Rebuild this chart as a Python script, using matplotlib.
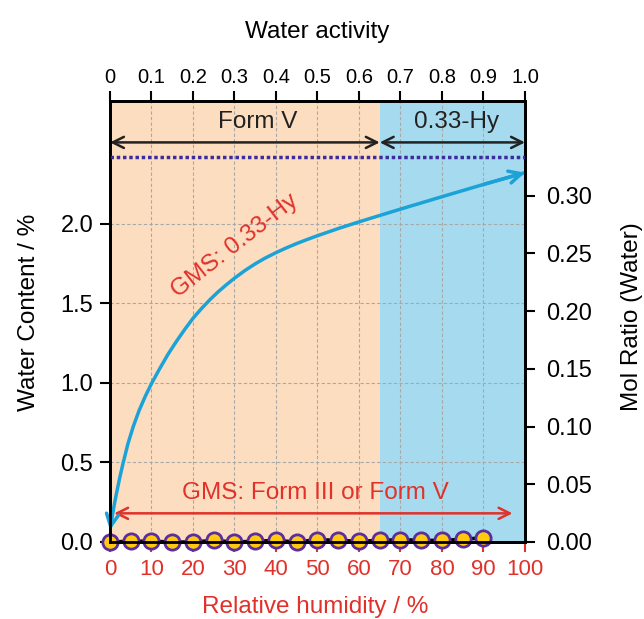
import numpy as np
import matplotlib
matplotlib.use("Agg")
import matplotlib.pyplot as plt

plt.rcParams["font.family"] = ["Liberation Sans", "DejaVu Sans"]

# GMS sorption curve of the 0.33 hydrate (water content %, vs RH %)
rh_hy = [0.0, 0.4, 1.0, 1.6, 2.4, 3.2, 4.3, 5.6, 7.0, 8.5, 10.0, 12.0, 14.0, 16.0, 18.0, 20.0,
         22.0, 24.0, 26.0, 28.0, 30.0, 32.5, 35.0, 37.5, 40.0, 42.5, 45.0, 47.5, 50.0, 55.0,
         60.0, 65.0, 70.0, 80.0, 90.0, 100.0]
wc_hy = [0.075, 0.14, 0.23, 0.31, 0.41, 0.50, 0.615, 0.725, 0.825, 0.915, 0.995, 1.09, 1.18, 1.26, 1.335, 1.405,
         1.465, 1.52, 1.57, 1.615, 1.657, 1.705, 1.7475, 1.785, 1.8175, 1.8475, 1.875, 1.90, 1.924, 1.969,
         2.011, 2.051, 2.091, 2.169, 2.246, 2.32]

# GMS of Form III / Form V (markers)
rh_v = [0, 5, 10, 15, 20, 25, 30, 35, 40, 45, 50, 55, 60, 65, 70, 75, 80, 85, 90]
wc_v = [0.0, 0.005, 0.005, 0.0, 0.0, 0.01, 0.0, 0.005, 0.01, 0.0, 0.015, 0.01, 0.005, 0.01, 0.015, 0.01, 0.01, 0.017, 0.027]

phase_boundary = 65
hy_ratio = 0.333
top_ticks = [0, 0.1, 0.2, 0.3, 0.4, 0.5, 0.6, 0.7, 0.8, 0.9, 1.0]
top_labels = ["0", "0.1", "0.2", "0.3", "0.4", "0.5", "0.6", "0.7", "0.8", "0.9", "1.0"]

red = "#E0312A"
blue = "#1BA3D8"
purple = "#3D2C9C"
lab_fs = 17.5

fig = plt.figure(figsize=(6.44, 6.19), dpi=100)
ax = fig.add_axes([0.1708, 0.1244, 0.6444, 0.7124])
ax.set_xlim(0, 100)
ax.set_ylim(0, 2.77)

ax.axvspan(0, phase_boundary, color="#FDDDC0", zorder=0, lw=0)
ax.axvspan(phase_boundary, 100, color="#A6DAEF", zorder=0, lw=0)

ax.set_xticks(range(0, 101, 10))
ax.set_yticks([0, 0.5, 1.0, 1.5, 2.0])
ax.set_yticklabels(["0.0", "0.5", "1.0", "1.5", "2.0"])
ax.grid(True, color="#A8A8A8", ls=(0, (3, 2)), lw=0.8, zorder=1)
ax.tick_params(axis="x", colors=red, labelsize=16, length=7, width=1.5, pad=5)
ax.tick_params(axis="y", labelsize=17, length=7, width=1.5, pad=5)
ax.set_xlabel("Relative humidity / %", color=red, fontsize=lab_fs)
ax.xaxis.set_label_coords(0.494, -0.148)
ax.xaxis.label.set_va("center")
ax.set_ylabel("Water Content / %", fontsize=lab_fs)
ax.yaxis.set_label_coords(-0.195, 0.52)
ax.yaxis.label.set_va("center")
for s in ax.spines.values():
    s.set_linewidth(2)

# right axis: mol ratio
axr = ax.twinx()
scale = 0.30 / 2.176
axr.set_ylim(0, 2.77 * scale)
axr.set_yticks([0, 0.05, 0.10, 0.15, 0.20, 0.25, 0.30])
axr.set_yticklabels(["0.00", "0.05", "0.10", "0.15", "0.20", "0.25", "0.30"])
axr.tick_params(axis="y", labelsize=17, length=7, width=1.5, pad=8)
axr.set_ylabel("Mol Ratio (Water)", fontsize=lab_fs)
axr.yaxis.set_label_coords(1.258, 0.51)
axr.yaxis.label.set_va("center")
axr.yaxis.label.set_rotation(90)
for s in axr.spines.values():
    s.set_linewidth(2)
axr.axhline(hy_ratio, color=purple, ls=(0, (1, 0.8)), lw=2.5, zorder=3)

# top axis: water activity
axt = ax.twiny()
axt.set_xlim(0, 1.0)
axt.set_xticks(top_ticks)
axt.set_xticklabels(top_labels)
axt.tick_params(axis="x", labelsize=14.5, length=7, width=1.5, pad=3)
axt.set_xlabel("Water activity", fontsize=lab_fs)
axt.xaxis.set_label_coords(0.5, 1.157)
axt.xaxis.label.set_va("center")

# curves
ax.plot(rh_v, wc_v, color="black", lw=2.5, zorder=4, clip_on=False)
ax.plot(rh_v, wc_v, "o", ms=11, mfc="#FFC90E", mec="#5A2E9E", mew=2, zorder=5, clip_on=False)
ax.plot(rh_hy, wc_hy, color=blue, lw=2.5, zorder=4, solid_capstyle="butt", solid_joinstyle="round")
ax.annotate("", xy=(rh_hy[0], wc_hy[0]), xytext=(rh_hy[1], wc_hy[1]),
            arrowprops=dict(arrowstyle="->", color=blue, lw=2.5, mutation_scale=22,
                            shrinkA=0, shrinkB=0), zorder=4)
ax.annotate("", xy=(rh_hy[-1], wc_hy[-1]), xytext=(rh_hy[-2], wc_hy[-2]),
            arrowprops=dict(arrowstyle="->", color=blue, lw=2.5, mutation_scale=22,
                            shrinkA=0, shrinkB=0), zorder=4, annotation_clip=False)

# phase arrows
ax.annotate("", xy=(0, 2.51), xytext=(phase_boundary, 2.51),
            arrowprops=dict(arrowstyle="<->", color="#222222", lw=1.8, mutation_scale=20,
                            shrinkA=0, shrinkB=0))
ax.annotate("", xy=(phase_boundary, 2.51), xytext=(100, 2.51),
            arrowprops=dict(arrowstyle="<->", color="#222222", lw=1.8, mutation_scale=20,
                            shrinkA=0, shrinkB=0))
ax.text(35.6, 2.64, "Form V", fontsize=lab_fs, ha="center", va="center", color="#222222")
ax.text(83.5, 2.64, "0.33-Hy", fontsize=lab_fs, ha="center", va="center", color="#222222")

ax.annotate("", xy=(1, 0.18), xytext=(97, 0.18),
            arrowprops=dict(arrowstyle="<->", color=red, lw=1.8, mutation_scale=20,
                            shrinkA=0, shrinkB=0))
ax.text(49.6, 0.31, "GMS: Form III or Form V", fontsize=lab_fs, ha="center", va="center", color=red)
ax.text(30, 1.86, "GMS: 0.33-Hy", fontsize=lab_fs, ha="center", va="center", color=red, rotation=38)

fig.savefig("out.png", dpi=100)
